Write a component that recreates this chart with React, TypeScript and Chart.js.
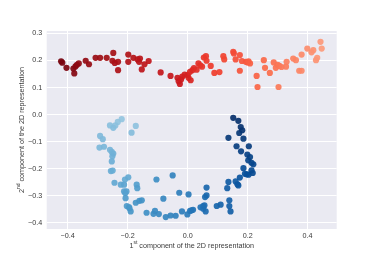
import React, { useEffect, useRef } from "react";
import { Chart, registerables } from "chart.js";

Chart.register(...registerables);

// Upper arc (ordered left -> right)
const topX = [
  -0.422, -0.418, -0.404, -0.381, -0.378, -0.374, -0.369, -0.363, -0.34, -0.329,
  -0.307, -0.292, -0.27, -0.248, -0.251, -0.243, -0.232, -0.232, -0.198, -0.198,
  -0.181, -0.167, -0.159, -0.162, -0.153, -0.144, -0.13, -0.09, -0.057, -0.034,
  -0.03, -0.026, -0.022, -0.018, -0.01, 0.0, 0.003, 0.01, 0.008, 0.016,
  0.021, 0.03, 0.036, 0.042, 0.048, 0.054, 0.061, 0.063, 0.077, 0.089,
  0.106, 0.119, 0.122, 0.152, 0.154, 0.16, 0.174, 0.174, 0.181, 0.194,
  0.2, 0.203, 0.208, 0.23, 0.233, 0.254, 0.258, 0.274, 0.287, 0.294,
  0.3, 0.306, 0.303, 0.313, 0.328, 0.33, 0.352, 0.361, 0.372, 0.38,
  0.38, 0.399, 0.413, 0.419, 0.428, 0.432, 0.443, 0.447,
];
const topY = [
  0.197, 0.192, 0.173, 0.17, 0.152, 0.178, 0.184, 0.189, 0.199, 0.186,
  0.21, 0.21, 0.21, 0.228, 0.199, 0.191, 0.195, 0.164, 0.222, 0.195,
  0.21, 0.204, 0.207, 0.195, 0.167, 0.186, 0.198, 0.156, 0.143, 0.136,
  0.123, 0.113, 0.13, 0.14, 0.148, 0.146, 0.136, 0.127, 0.158, 0.164,
  0.172, 0.166, 0.189, 0.182, 0.177, 0.211, 0.216, 0.199, 0.18, 0.154,
  0.157, 0.216, 0.204, 0.232, 0.226, 0.204, 0.22, 0.162, 0.198, 0.195,
  0.193, 0.197, 0.189, 0.143, 0.102, 0.201, 0.173, 0.154, 0.193, 0.173,
  0.184, 0.18, 0.102, 0.176, 0.177, 0.195, 0.207, 0.201, 0.162, 0.162,
  0.222, 0.244, 0.23, 0.238, 0.201, 0.21, 0.269, 0.244,
];

// Lower arc (ordered along the curve, from upper-left to upper-right)
const bottomX = [
  -0.22, -0.233, -0.173, -0.241, -0.259, -0.248, -0.187, -0.292, -0.283, -0.294,
  -0.279, -0.259, -0.253, -0.248, -0.251, -0.253, -0.256, -0.25, -0.209, -0.198,
  -0.244, -0.223, -0.212, -0.212, -0.204, -0.208, -0.17, -0.168, -0.207, -0.203,
  -0.196, -0.194, -0.19, -0.173, -0.161, -0.153, -0.137, -0.104, -0.114, -0.109,
  -0.096, -0.081, -0.073, -0.057, -0.05, -0.04, -0.028, -0.019, -0.001, 0.003,
  0.008, 0.013, 0.018, 0.043, 0.052, 0.052, 0.056, 0.06, 0.058, 0.063,
  0.063, 0.097, 0.11, 0.139, 0.139, 0.143, 0.132, 0.136, 0.16, 0.169,
  0.166, 0.174, 0.191, 0.197, 0.203, 0.186, 0.213, 0.217, 0.219, 0.213,
  0.202, 0.208, 0.199, 0.178, 0.163, 0.204, 0.186, 0.136, 0.172, 0.182,
  0.177, 0.169, 0.152,
];
const bottomY = [
  -0.017, -0.027, -0.042, -0.04, -0.04, -0.049, -0.067, -0.079, -0.091, -0.122,
  -0.119, -0.13, -0.138, -0.144, -0.154, -0.173, -0.209, -0.207, -0.24, -0.232,
  -0.252, -0.259, -0.259, -0.284, -0.284, -0.29, -0.259, -0.272, -0.309, -0.338,
  -0.342, -0.346, -0.358, -0.326, -0.319, -0.317, -0.363, -0.24, -0.367, -0.356,
  -0.368, -0.311, -0.379, -0.373, -0.225, -0.374, -0.289, -0.358, -0.369, -0.295,
  -0.356, -0.354, -0.352, -0.343, -0.348, -0.338, -0.336, -0.358, -0.305, -0.299,
  -0.27, -0.338, -0.333, -0.317, -0.338, -0.358, -0.272, -0.249, -0.247, -0.262,
  -0.258, -0.233, -0.219, -0.221, -0.222, -0.198, -0.206, -0.216, -0.184, -0.178,
  -0.169, -0.157, -0.148, -0.136, -0.117, -0.117, -0.089, -0.086, -0.068, -0.058,
  -0.046, -0.023, -0.012,
];

const xTicks = [-0.4, -0.2, 0.0, 0.2, 0.4];
const yTicks = [-0.4, -0.3, -0.2, -0.1, 0.0, 0.1, 0.2, 0.3];
const xTitle = ["1", "st", " component of the 2D representation"];
const yTitle = ["2", "nd", " component of the 2D representation"];

const REDS = [
  [255, 245, 240], [254, 224, 210], [252, 187, 161], [252, 146, 114],
  [251, 106, 74], [239, 59, 44], [203, 24, 29], [165, 15, 21], [103, 0, 13],
];
const BLUES = [
  [247, 251, 255], [222, 235, 247], [198, 219, 239], [158, 202, 225],
  [107, 174, 214], [66, 146, 198], [33, 113, 181], [8, 81, 156], [8, 48, 107],
];

function cmap(stops: number[][], t: number, a: number): string {
  const s = Math.max(0, Math.min(1, t)) * (stops.length - 1);
  const i = Math.min(stops.length - 2, Math.floor(s));
  const f = s - i;
  const c = stops[i].map((v, k) => Math.round(v + (stops[i + 1][k] - v) * f));
  return `rgba(${c[0]},${c[1]},${c[2]},${a})`;
}

const FONT = "'Liberation Sans', Arial, sans-serif";
const TEXT_COLOR = "#3a3a3a";
const fmt = (v: number) => {
  const s = Math.abs(v).toFixed(1);
  return v < -1e-9 ? "\u2212" + s : s;
};

function drawSupText(ctx: CanvasRenderingContext2D, parts: string[], cx: number, cy: number) {
  const main = `7.2px ${FONT}`;
  const sup = `5px ${FONT}`;
  ctx.font = main;
  const w1 = ctx.measureText(parts[0]).width;
  const w3 = ctx.measureText(parts[2]).width;
  ctx.font = sup;
  const w2 = ctx.measureText(parts[1]).width;
  let x = cx - (w1 + w2 + w3) / 2;
  ctx.textAlign = "left";
  ctx.textBaseline = "middle";
  ctx.font = main;
  ctx.fillText(parts[0], x, cy);
  x += w1;
  ctx.font = sup;
  ctx.fillText(parts[1], x, cy - 2.6);
  x += w2;
  ctx.font = main;
  ctx.fillText(parts[2], x, cy);
}

const bgPlugin = {
  id: "bgTitles",
  beforeDraw(chart: any) {
    const { ctx, chartArea } = chart;
    ctx.save();
    ctx.fillStyle = "#EAEAF2";
    ctx.fillRect(chartArea.left, chartArea.top, chartArea.right - chartArea.left, chartArea.bottom - chartArea.top);
    ctx.restore();
  },
  afterDraw(chart: any) {
    const { ctx, chartArea } = chart;
    const cx = (chartArea.left + chartArea.right) / 2;
    const cy = (chartArea.top + chartArea.bottom) / 2;
    ctx.save();
    ctx.fillStyle = TEXT_COLOR;
    drawSupText(ctx, xTitle, cx, chartArea.bottom + 16.7);
    ctx.restore();
    ctx.save();
    ctx.fillStyle = TEXT_COLOR;
    ctx.translate(21.7, cy);
    ctx.rotate(-Math.PI / 2);
    drawSupText(ctx, yTitle, 0, 0);
    ctx.restore();
  },
};

export default function App() {
  const ref = useRef<HTMLCanvasElement | null>(null);
  useEffect(() => {
    if (!ref.current) return;
    const topPts = topX.map((x, i) => ({ x, y: topY[i] }));
    const botPts = bottomX.map((x, i) => ({ x, y: bottomY[i] }));
    const topColors = topX.map((_, i) => cmap(REDS, 0.97 - (i / (topX.length - 1)) * 0.62, 0.92));
    const botColors = bottomX.map((_, i) => cmap(BLUES, 0.4 + (i / (bottomX.length - 1)) * 0.6, 0.92));
    const tickFont = { family: FONT, size: 7.2 };
    const chart = new Chart(ref.current, {
      type: "scatter",
      data: {
        datasets: [
          { data: topPts, backgroundColor: topColors, borderWidth: 0, pointRadius: 3.1, pointHoverRadius: 3.1 },
          { data: botPts, backgroundColor: botColors, borderWidth: 0, pointRadius: 3.1, pointHoverRadius: 3.1 },
        ],
      },
      options: {
        responsive: false,
        animation: false,
        events: [],
        layout: { padding: { left: 0, top: 31, right: 37.3, bottom: 0 } },
        plugins: { legend: { display: false }, tooltip: { enabled: false } },
        scales: {
          x: {
            type: "linear",
            min: -0.47,
            max: 0.497,
            afterBuildTicks: (s: any) => { s.ticks = xTicks.map((v) => ({ value: v })); },
            afterFit: (s: any) => { s.height = 28; },
            ticks: { callback: (v: any) => fmt(Number(v)), font: tickFont, color: TEXT_COLOR, padding: 3, maxRotation: 0 },
            grid: { color: "#ffffff", lineWidth: 1, drawTicks: false },
            border: { display: false },
          },
          y: {
            type: "linear",
            min: -0.423,
            max: 0.309,
            afterBuildTicks: (s: any) => { s.ticks = yTicks.map((v) => ({ value: v })); },
            afterFit: (s: any) => { s.width = 46.7; },
            ticks: { callback: (v: any) => fmt(Number(v)), font: tickFont, color: TEXT_COLOR, padding: 4.5 },
            grid: { color: "#ffffff", lineWidth: 1, drawTicks: false },
            border: { display: false },
          },
        },
      },
      plugins: [bgPlugin],
    } as any);
    return () => chart.destroy();
  }, []);
  return (
    <div style={{ position: "absolute", left: 0, top: 0, width: 374, height: 257, background: "#fff" }}>
      <canvas ref={ref} width={374} height={257} style={{ display: "block" }} />
    </div>
  );
}
